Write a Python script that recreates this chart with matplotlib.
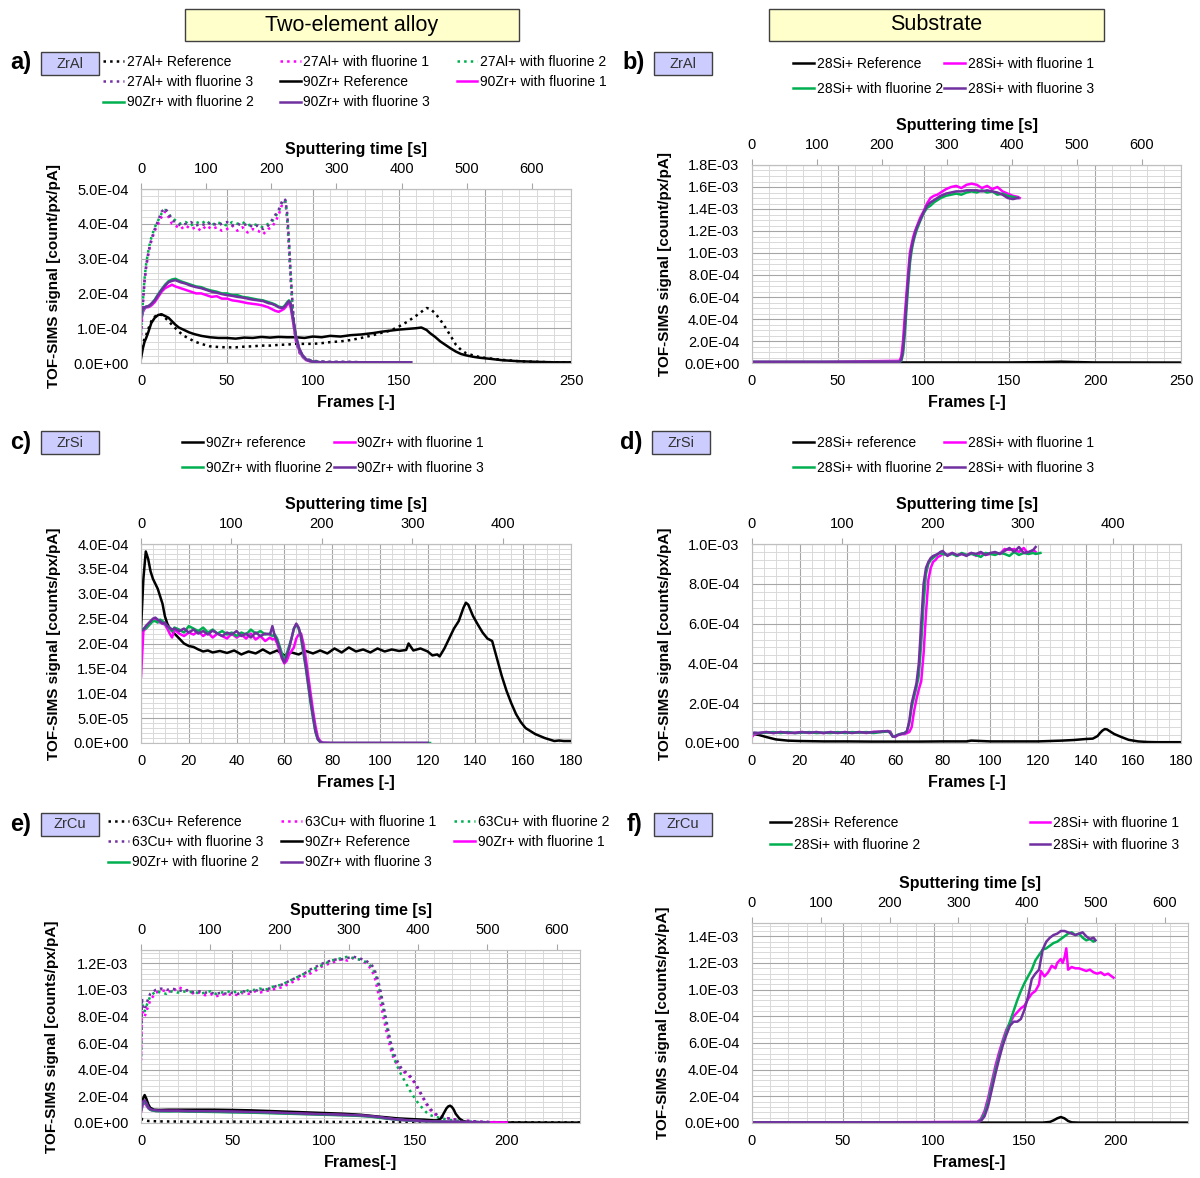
import matplotlib
matplotlib.use('Agg')
import matplotlib.pyplot as plt
from matplotlib.patches import Rectangle
from matplotlib.ticker import MultipleLocator, FuncFormatter

plt.rcParams['font.family'] = ['Liberation Sans Narrow', 'Liberation Sans', 'DejaVu Sans']

# Colores
C_REF = 'black'
C_F1 = '#ff00ff'
C_F2 = '#00b050'
C_F3 = '#7030a0'

# Segundos por frame (eje superior)
SEC_PER_FRAME = 2.64

# ---------------- a) ZrAl, aleación (x1e-4) ----------------
a_frames = [0, 1, 2, 3, 4, 5, 6, 8, 10, 12, 14, 16, 18, 20, 23, 26, 29, 32, 35, 38, 41, 44, 47, 50, 53,
            56, 59, 62, 65, 68, 71, 74, 76, 78, 80, 82, 83, 84, 85, 86, 87, 88, 89, 90, 92, 94, 96, 98,
            100, 105, 110, 120, 130, 140, 150, 157]
a_al_f1 = [0.8, 1.6, 2.3, 2.75, 3.05, 3.3, 3.5, 3.8, 4.0, 4.2, 4.35, 4.2, 4.0, 3.95, 3.85, 3.95, 3.85,
           3.9, 3.8, 3.95, 3.85, 3.9, 3.8, 3.85, 3.95, 3.8, 3.9, 3.75, 3.85, 3.8, 3.7, 3.85, 3.9, 4.05,
           4.25, 4.55, 4.65, 4.6, 4.1, 3.3, 2.4, 1.6, 1.0, 0.65, 0.3, 0.18, 0.12, 0.08, 0.06, 0.04,
           0.03, 0.03, 0.02, 0.02, 0.02, 0.02]
a_al_f2 = [0.9, 1.7, 2.4, 2.85, 3.15, 3.4, 3.6, 3.9, 4.1, 4.3, 4.4, 4.3, 4.15, 4.1, 4.0, 4.05, 3.95,
           4.05, 4.0, 4.1, 3.95, 4.05, 4.0, 3.95, 4.05, 4.0, 4.05, 3.95, 4.0, 3.95, 3.9, 4.0, 4.05, 4.2,
           4.35, 4.6, 4.7, 4.65, 4.2, 3.45, 2.5, 1.7, 1.05, 0.7, 0.32, 0.19, 0.12, 0.08, 0.06, 0.04,
           0.03, 0.03, 0.02, 0.02, 0.02, 0.02]
a_al_f3 = [0.8, 1.7, 2.35, 2.8, 3.1, 3.35, 3.55, 3.85, 4.1, 4.35, 4.45, 4.3, 4.1, 4.05, 3.95, 4.0, 4.05,
           3.95, 4.0, 3.95, 4.05, 3.95, 4.0, 4.05, 3.95, 4.0, 3.95, 4.0, 3.9, 3.95, 3.85, 3.95, 4.1, 4.25,
           4.4, 4.65, 4.72, 4.68, 4.3, 3.55, 2.6, 1.8, 1.1, 0.75, 0.35, 0.2, 0.13, 0.09, 0.06, 0.04,
           0.03, 0.03, 0.02, 0.02, 0.02, 0.02]
a_zr_f1 = [1.2, 1.45, 1.55, 1.6, 1.6, 1.62, 1.65, 1.75, 1.9, 2.05, 2.15, 2.2, 2.25, 2.2, 2.15, 2.1, 2.05,
           2.0, 2.0, 1.95, 1.9, 1.92, 1.85, 1.85, 1.8, 1.78, 1.75, 1.72, 1.7, 1.68, 1.65, 1.6, 1.55, 1.5,
           1.47, 1.52, 1.55, 1.6, 1.68, 1.72, 1.6, 1.3, 1.0, 0.7, 0.35, 0.17, 0.08, 0.05, 0.03, 0.02,
           0.02, 0.02, 0.02, 0.02, 0.02, 0.02]
a_zr_f2 = [1.3, 1.5, 1.58, 1.62, 1.62, 1.65, 1.7, 1.82, 1.98, 2.12, 2.25, 2.35, 2.4, 2.42, 2.35, 2.3,
           2.25, 2.2, 2.18, 2.12, 2.08, 2.05, 2.0, 2.0, 1.95, 1.95, 1.9, 1.88, 1.85, 1.82, 1.8, 1.75, 1.72,
           1.68, 1.62, 1.6, 1.62, 1.68, 1.75, 1.8, 1.72, 1.4, 1.1, 0.78, 0.4, 0.2, 0.1, 0.06, 0.04, 0.02,
           0.02, 0.02, 0.02, 0.02, 0.02, 0.02]
a_zr_f3 = [1.4, 1.55, 1.6, 1.62, 1.63, 1.66, 1.7, 1.8, 1.95, 2.1, 2.22, 2.32, 2.36, 2.38, 2.32, 2.28,
           2.22, 2.18, 2.15, 2.1, 2.05, 2.02, 1.98, 1.95, 1.93, 1.9, 1.88, 1.85, 1.82, 1.8, 1.78, 1.72, 1.7,
           1.66, 1.6, 1.58, 1.6, 1.65, 1.72, 1.78, 1.7, 1.42, 1.12, 0.8, 0.42, 0.22, 0.11, 0.06, 0.04,
           0.02, 0.02, 0.02, 0.02, 0.02, 0.02, 0.02]
a_ref_frames = [0, 1, 2, 3, 4, 6, 8, 10, 12, 14, 16, 18, 20, 22, 25, 28, 31, 35, 40, 45, 50, 55, 60, 65,
                70, 75, 80, 85, 90, 95, 100, 105, 110, 116, 122, 128, 135, 140, 145, 150, 155, 160, 163,
                166, 168, 171, 174, 177, 180, 183, 186, 189, 193, 197, 203, 210, 220, 232, 240, 250]
a_zr_ref = [0.13, 0.4, 0.6, 0.72, 0.85, 1.15, 1.3, 1.38, 1.4, 1.35, 1.3, 1.2, 1.1, 1.02, 0.95, 0.88, 0.83,
            0.78, 0.74, 0.72, 0.72, 0.7, 0.73, 0.72, 0.75, 0.73, 0.75, 0.74, 0.74, 0.72, 0.76, 0.74, 0.78,
            0.76, 0.8, 0.82, 0.86, 0.9, 0.93, 0.96, 0.98, 1.0, 1.02, 0.95, 0.86, 0.75, 0.62, 0.52, 0.42,
            0.33, 0.26, 0.22, 0.18, 0.15, 0.12, 0.08, 0.05, 0.03, 0.02, 0.02]
a_al_ref = [0.25, 0.5, 0.7, 0.8, 0.95, 1.2, 1.33, 1.4, 1.38, 1.3, 1.2, 1.1, 1.0, 0.9, 0.78, 0.7, 0.62,
            0.55, 0.48, 0.46, 0.45, 0.45, 0.47, 0.48, 0.5, 0.5, 0.52, 0.53, 0.55, 0.55, 0.55, 0.57, 0.6,
            0.62, 0.66, 0.72, 0.8, 0.87, 0.93, 1.05, 1.19, 1.36, 1.47, 1.58, 1.56, 1.43, 1.24, 1.02, 0.78,
            0.53, 0.38, 0.28, 0.22, 0.17, 0.13, 0.09, 0.05, 0.03, 0.02, 0.02]

# ---------------- b) ZrAl, sustrato (x1e-3) ----------------
b_frames = [0, 40, 86, 87, 88, 89, 90, 91, 92, 93, 94, 95, 96, 98, 100, 102, 104, 106, 108, 110, 113, 116,
            119, 122, 125, 128, 131, 134, 137, 140, 143, 146, 149, 152, 155]
b_si_f1 = [0.01, 0.01, 0.02, 0.06, 0.2, 0.42, 0.63, 0.82, 1.0, 1.08, 1.15, 1.2, 1.24, 1.32, 1.38, 1.45,
           1.5, 1.52, 1.53, 1.55, 1.58, 1.6, 1.61, 1.59, 1.62, 1.63, 1.62, 1.59, 1.61, 1.58, 1.6, 1.56,
           1.54, 1.52, 1.51]
b_si_f2 = [0.01, 0.01, 0.01, 0.02, 0.08, 0.25, 0.48, 0.7, 0.9, 1.02, 1.1, 1.16, 1.21, 1.29, 1.36, 1.41,
           1.43, 1.46, 1.48, 1.5, 1.52, 1.53, 1.54, 1.53, 1.55, 1.56, 1.55, 1.57, 1.55, 1.56, 1.53, 1.54,
           1.52, 1.51, 1.5]
b_si_f3 = [0.01, 0.01, 0.01, 0.03, 0.12, 0.32, 0.55, 0.76, 0.95, 1.05, 1.12, 1.18, 1.23, 1.3, 1.37, 1.43,
           1.46, 1.48, 1.5, 1.52, 1.54, 1.55, 1.56, 1.56, 1.57, 1.57, 1.57, 1.56, 1.57, 1.56, 1.55, 1.53,
           1.5, 1.49, 1.5]
b_ref_frames = [0, 50, 100, 150, 170, 180, 190, 200, 250]
b_si_ref = [0.004, 0.004, 0.005, 0.005, 0.008, 0.012, 0.008, 0.005, 0.004]

# ---------------- c) ZrSi, aleación (x1e-4) ----------------
c_ref_frames = [0, 1, 2, 3, 4, 5, 6, 7, 8, 9, 10, 11, 12, 13, 14, 16, 18, 20, 22, 24, 26, 28, 30, 33, 36,
                39, 42, 45, 48, 51, 54, 57, 60, 63, 66, 69, 72, 75, 78, 81, 84, 87, 90, 93, 96, 99, 102,
                105, 108, 111, 112, 114, 117, 120, 122, 124, 125, 127, 129, 131, 133, 135, 136, 137, 139,
                141, 143, 145, 147, 149, 151, 153, 155, 157, 159, 161, 163, 165, 167, 169, 171, 173, 175,
                177, 180]
c_zr_ref = [2.28, 3.3, 3.85, 3.7, 3.45, 3.3, 3.2, 3.1, 2.95, 2.8, 2.55, 2.4, 2.3, 2.25, 2.2, 2.1, 2.0,
            1.95, 1.93, 1.88, 1.84, 1.86, 1.82, 1.85, 1.81, 1.86, 1.78, 1.84, 1.8, 1.88, 1.8, 1.86, 1.76,
            1.82, 1.78, 1.85, 1.8, 1.86, 1.8, 1.9, 1.82, 1.92, 1.84, 1.88, 1.82, 1.9, 1.84, 1.88, 1.85,
            1.87, 2.0, 1.86, 1.9, 1.84, 1.76, 1.78, 1.74, 1.9, 2.1, 2.3, 2.45, 2.72, 2.82, 2.78, 2.55, 2.38,
            2.22, 2.1, 2.05, 1.7, 1.35, 1.05, 0.8, 0.58, 0.42, 0.3, 0.24, 0.18, 0.14, 0.1, 0.07, 0.04,
            0.05, 0.04, 0.04]
c_frames = [0, 1, 2, 3, 4, 5, 6, 7, 8, 9, 10, 11, 12, 13, 14, 16, 18, 20, 22, 24, 26, 28, 30, 32, 34, 36,
            38, 40, 42, 44, 46, 48, 50, 52, 54, 55, 56, 57, 58, 59, 60, 61, 62, 63, 64, 65, 66, 67, 68,
            69, 70, 71, 72, 73, 74, 75, 76, 80, 90, 100, 110, 120]
c_zr_f1 = [1.33, 2.25, 2.3, 2.35, 2.42, 2.48, 2.5, 2.45, 2.42, 2.4, 2.38, 2.3, 2.2, 2.12, 2.28, 2.2, 2.15,
           2.22, 2.18, 2.25, 2.15, 2.22, 2.12, 2.2, 2.15, 2.1, 2.2, 2.12, 2.18, 2.1, 2.2, 2.08, 2.15, 2.05,
           2.12, 2.08, 2.1, 2.0, 1.85, 1.7, 1.6, 1.65, 1.78, 1.85, 1.92, 2.1, 2.18, 2.2, 2.0, 1.7, 1.35,
           1.0, 0.65, 0.35, 0.12, 0.04, 0.01, 0.0, 0.0, 0.0, 0.0, 0.0]
c_zr_f2 = [2.25, 2.3, 2.3, 2.35, 2.4, 2.45, 2.45, 2.42, 2.48, 2.45, 2.4, 2.35, 2.3, 2.25, 2.32, 2.28,
           2.22, 2.35, 2.3, 2.25, 2.32, 2.22, 2.28, 2.2, 2.25, 2.18, 2.22, 2.15, 2.22, 2.18, 2.28, 2.2,
           2.25, 2.18, 2.2, 2.15, 2.18, 2.1, 1.95, 1.8, 1.68, 1.8, 1.95, 2.1, 2.3, 2.38, 2.3, 2.1, 1.8,
           1.5, 1.15, 0.8, 0.5, 0.22, 0.07, 0.02, 0.0, 0.0, 0.0, 0.0, 0.0, 0.0]
c_zr_f3 = [2.25, 2.28, 2.35, 2.4, 2.45, 2.5, 2.52, 2.48, 2.45, 2.4, 2.42, 2.35, 2.32, 2.28, 2.3, 2.25,
           2.3, 2.22, 2.28, 2.2, 2.25, 2.18, 2.26, 2.2, 2.15, 2.22, 2.18, 2.25, 2.15, 2.2, 2.12, 2.22,
           2.15, 2.2, 2.18, 2.35, 2.15, 2.05, 1.9, 1.72, 1.62, 1.75, 1.9, 2.1, 2.3, 2.4, 2.32, 2.15, 1.85,
           1.55, 1.2, 0.85, 0.55, 0.25, 0.08, 0.02, 0.0, 0.0, 0.0, 0.0, 0.0, 0.0]

# ---------------- d) ZrSi, sustrato (x1e-4) ----------------
d_frames = [0, 1, 3, 6, 9, 12, 15, 18, 21, 24, 27, 30, 33, 36, 39, 42, 45, 48, 51, 54, 57, 58, 59, 60, 61,
            62, 63, 64, 65, 66, 67, 68, 69, 70, 71, 72, 73, 74, 75, 76, 77, 78, 79, 80, 82, 84, 86, 88,
            90, 92, 94, 96, 98, 100, 102, 104, 106, 108, 110, 112, 114, 116, 118, 119, 121]
d_si_f1 = [0.3, 0.45, 0.5, 0.55, 0.5, 0.55, 0.5, 0.52, 0.55, 0.5, 0.55, 0.5, 0.55, 0.52, 0.55, 0.52, 0.55,
           0.5, 0.56, 0.55, 0.6, 0.58, 0.35, 0.3, 0.38, 0.42, 0.45, 0.45, 0.5, 0.55, 0.8, 1.6, 2.2, 2.7,
           3.1, 4.5, 6.5, 8.2, 8.8, 9.1, 9.2, 9.35, 9.4, 9.5, 9.45, 9.55, 9.4, 9.5, 9.45, 9.55, 9.4, 9.55,
           9.45, 9.5, 9.55, 9.5, 9.75, 9.7, 9.75, 9.6, 9.8, 9.5, 9.7, 9.6]
d_si_f2 = [0.45, 0.5, 0.5, 0.52, 0.55, 0.5, 0.55, 0.5, 0.52, 0.55, 0.5, 0.52, 0.5, 0.55, 0.5, 0.55, 0.52,
           0.55, 0.5, 0.55, 0.58, 0.55, 0.32, 0.35, 0.4, 0.45, 0.48, 0.5, 0.6, 1.0, 1.8, 2.3, 2.8, 3.4,
           5.0, 7.0, 8.5, 9.0, 9.2, 9.3, 9.4, 9.5, 9.55, 9.5, 9.45, 9.5, 9.4, 9.55, 9.45, 9.5, 9.45, 9.35,
           9.55, 9.5, 9.45, 9.55, 9.5, 9.4, 9.6, 9.45, 9.55, 9.5, 9.55, 9.5, 9.55]
d_si_f3 = [0.5, 0.52, 0.5, 0.55, 0.5, 0.55, 0.52, 0.5, 0.55, 0.52, 0.55, 0.5, 0.55, 0.5, 0.55, 0.5, 0.55,
           0.52, 0.55, 0.58, 0.6, 0.5, 0.33, 0.32, 0.4, 0.43, 0.47, 0.5, 0.58, 1.1, 2.0, 2.5, 3.0, 4.0,
           6.0, 8.0, 8.8, 9.1, 9.3, 9.4, 9.45, 9.5, 9.6, 9.65, 9.4, 9.55, 9.45, 9.5, 9.4, 9.55, 9.5, 9.6,
           9.45, 9.55, 9.6, 9.5, 9.65, 9.8, 9.6, 9.85, 9.55, 9.6, 9.7, 9.85]
d_ref_frames = [0, 3, 6, 10, 15, 20, 30, 40, 50, 60, 70, 80, 90, 92, 100, 110, 120, 125, 130, 135, 140,
                143, 145, 146, 147, 148, 149, 150, 152, 155, 158, 162, 166, 170, 180]
d_si_ref = [0.47, 0.4, 0.3, 0.18, 0.12, 0.1, 0.08, 0.08, 0.07, 0.07, 0.07, 0.08, 0.08, 0.12, 0.08, 0.08,
            0.08, 0.1, 0.12, 0.15, 0.2, 0.22, 0.35, 0.5, 0.62, 0.7, 0.68, 0.6, 0.45, 0.3, 0.16, 0.08, 0.05,
            0.04, 0.04]

# ---------------- e) ZrCu, aleación (x1e-3) ----------------
e_cu_frames = [0, 0.5, 1, 2, 3, 5, 8, 11, 14, 17, 20, 23, 26, 29, 32, 35, 38, 41, 44, 47, 50, 53, 56, 59,
               62, 65, 68, 71, 74, 77, 80, 83, 86, 89, 92, 95, 98, 101, 104, 107, 110, 113, 116, 119, 121,
               123, 125, 126, 127, 128, 129, 130, 131, 132, 133, 134, 135, 136, 137, 138, 140, 142, 144,
               146, 148, 150, 152, 154, 156, 158, 160, 163, 166, 170, 175, 180, 185, 190, 195, 200]
e_cu_f1 = [0.47, 0.88, 0.82, 0.8, 0.84, 0.92, 0.98, 0.99, 1.0, 0.98, 1.02, 1.01, 0.99, 0.97, 0.98, 0.96,
           0.97, 0.95, 0.97, 0.96, 0.97, 0.96, 0.98, 0.97, 0.99, 0.98, 0.99, 1.0, 1.01, 1.02, 1.04, 1.06,
           1.08, 1.1, 1.12, 1.14, 1.17, 1.19, 1.2, 1.22, 1.23, 1.22, 1.24, 1.23, 1.22, 1.2, 1.17, 1.15,
           1.12, 1.08, 1.02, 0.96, 0.9, 0.83, 0.76, 0.7, 0.64, 0.58, 0.53, 0.49, 0.44, 0.4, 0.38, 0.36,
           0.33, 0.29, 0.24, 0.19, 0.14, 0.1, 0.07, 0.05, 0.04, 0.03, 0.02, 0.015, 0.01, 0.008, 0.006,
           0.005]
e_cu_f2 = [0.5, 0.92, 0.86, 0.84, 0.88, 0.95, 0.99, 0.98, 0.97, 0.99, 0.98, 0.99, 0.98, 0.99, 0.97, 0.98,
           0.99, 0.97, 0.98, 0.99, 0.98, 0.99, 0.98, 1.0, 1.0, 1.01, 1.0, 1.02, 1.03, 1.04, 1.06, 1.08, 1.1,
           1.12, 1.14, 1.16, 1.18, 1.2, 1.22, 1.23, 1.24, 1.25, 1.24, 1.23, 1.22, 1.21, 1.19, 1.17, 1.15,
           1.12, 1.08, 1.02, 0.96, 0.89, 0.82, 0.75, 0.68, 0.62, 0.56, 0.5, 0.43, 0.37, 0.32, 0.27, 0.22,
           0.18, 0.14, 0.11, 0.08, 0.06, 0.05, 0.04, 0.03, 0.02, 0.015, 0.01, 0.008, 0.006]
e_cu_f3 = [0.5, 0.94, 0.87, 0.85, 0.9, 0.97, 1.0, 1.01, 1.0, 1.01, 1.0, 0.99, 1.0, 0.98, 0.99, 0.98, 0.98,
           0.97, 0.98, 0.97, 0.98, 0.97, 0.99, 0.98, 1.0, 0.99, 1.01, 1.01, 1.03, 1.04, 1.06, 1.08, 1.1,
           1.12, 1.15, 1.17, 1.19, 1.21, 1.22, 1.23, 1.23, 1.24, 1.25, 1.24, 1.23, 1.22, 1.2, 1.19, 1.17,
           1.14, 1.1, 1.05, 0.99, 0.92, 0.85, 0.78, 0.71, 0.64, 0.58, 0.53, 0.47, 0.42, 0.39, 0.37, 0.34,
           0.3, 0.25, 0.2, 0.15, 0.11, 0.08, 0.05, 0.04, 0.03, 0.02, 0.015, 0.01, 0.008]
e_curef_frames = [0, 1, 2, 4, 10, 30, 60, 100, 150, 200, 240]
e_cu_ref = [0.035, 0.025, 0.02, 0.015, 0.012, 0.01, 0.01, 0.008, 0.006, 0.005, 0.004]
e_zr_frames = [0, 1, 2, 3, 4, 5, 6, 8, 10, 15, 20, 25, 30, 40, 50, 60, 70, 80, 90, 100, 110, 115, 120,
               125, 130, 135, 140, 145, 150, 155, 160, 165, 170, 175, 180, 190, 200]
e_zr_f1 = [0.08, 0.14, 0.15, 0.13, 0.11, 0.1, 0.095, 0.09, 0.09, 0.09, 0.09, 0.088, 0.087, 0.085, 0.083,
           0.08, 0.077, 0.072, 0.068, 0.064, 0.06, 0.058, 0.055, 0.05, 0.042, 0.033, 0.025, 0.02, 0.016,
           0.013, 0.011, 0.01, 0.008, 0.007, 0.006, 0.005, 0.004]
e_zr_f2 = [0.09, 0.15, 0.16, 0.14, 0.115, 0.1, 0.095, 0.09, 0.088, 0.087, 0.088, 0.086, 0.085, 0.083, 0.08,
           0.078, 0.074, 0.07, 0.066, 0.062, 0.058, 0.056, 0.053, 0.048, 0.04, 0.032, 0.025, 0.02, 0.016,
           0.013, 0.011, 0.01, 0.008, 0.007, 0.006, 0.005]
e_zr_f3 = [0.1, 0.16, 0.17, 0.15, 0.12, 0.105, 0.1, 0.095, 0.093, 0.092, 0.092, 0.09, 0.089, 0.088, 0.086,
           0.083, 0.08, 0.075, 0.07, 0.066, 0.062, 0.06, 0.057, 0.052, 0.045, 0.035, 0.027, 0.022, 0.018,
           0.015, 0.012, 0.01, 0.009, 0.008, 0.007, 0.005]
e_zrref_frames = [0, 1, 2, 3, 4, 5, 7, 10, 15, 20, 30, 40, 50, 60, 70, 80, 90, 100, 110, 120, 130, 140,
                  150, 155, 160, 162, 164, 165, 166, 167, 168, 169, 170, 171, 172, 174, 176, 178, 180, 190,
                  200, 220, 240]
e_zr_ref = [0.1, 0.18, 0.21, 0.18, 0.14, 0.115, 0.1, 0.098, 0.1, 0.1, 0.1, 0.1, 0.098, 0.095, 0.09, 0.085,
            0.08, 0.075, 0.07, 0.062, 0.048, 0.035, 0.028, 0.025, 0.02, 0.02, 0.035, 0.06, 0.085, 0.11,
            0.125, 0.13, 0.12, 0.1, 0.07, 0.035, 0.015, 0.008, 0.005, 0.004, 0.004, 0.003, 0.003]

# ---------------- f) ZrCu, sustrato (x1e-3) ----------------
f_frames = [0, 60, 124, 126, 128, 130, 132, 134, 136, 138, 140, 142, 144, 146, 148, 150, 152, 154, 156,
            158, 160, 162, 164, 166, 168, 170, 172, 174, 176, 178, 180, 182, 184, 186, 188, 189]
f_si_f2 = [0.005, 0.005, 0.006, 0.02, 0.07, 0.16, 0.28, 0.4, 0.5, 0.6, 0.68, 0.76, 0.84, 0.92, 0.99, 1.05,
           1.1, 1.15, 1.22, 1.26, 1.3, 1.31, 1.33, 1.35, 1.36, 1.38, 1.4, 1.42, 1.43, 1.41, 1.42, 1.39,
           1.37, 1.38, 1.36, 1.37]
f_si_f3 = [0.005, 0.005, 0.006, 0.015, 0.05, 0.13, 0.25, 0.37, 0.48, 0.58, 0.66, 0.73, 0.76, 0.76, 0.78,
           0.85, 0.95, 1.08, 1.12, 1.15, 1.3, 1.36, 1.39, 1.41, 1.42, 1.44, 1.44, 1.43, 1.42, 1.41, 1.42,
           1.43, 1.4, 1.38, 1.39, 1.37]
f_f1_frames = [0, 60, 124, 126, 128, 130, 132, 134, 136, 138, 140, 142, 144, 146, 148, 150, 152, 154, 156,
               158, 159, 160, 161, 163, 165, 167, 168, 170, 171, 172, 173, 174, 176, 178, 180, 182, 184,
               186, 188, 190, 192, 194, 196, 198, 199]
f_si_f1 = [0.005, 0.005, 0.008, 0.03, 0.09, 0.19, 0.31, 0.43, 0.53, 0.62, 0.7, 0.75, 0.8, 0.83, 0.86,
           0.88, 0.93, 0.97, 0.99, 1.04, 1.14, 1.12, 1.1, 1.13, 1.18, 1.16, 1.2, 1.23, 1.2, 1.24, 1.31,
           1.15, 1.17, 1.16, 1.16, 1.15, 1.14, 1.15, 1.13, 1.12, 1.13, 1.11, 1.12, 1.1, 1.09]
f_ref_frames = [0, 100, 160, 164, 166, 168, 170, 172, 174, 176, 180, 240]
f_si_ref = [0.003, 0.003, 0.003, 0.008, 0.02, 0.035, 0.045, 0.035, 0.015, 0.005, 0.003, 0.003]

FIG_W, FIG_H = 1200, 1178
fig = plt.figure(figsize=(FIG_W / 100, FIG_H / 100), dpi=100)


def fx(px):
    return px / FIG_W


def fy(py):
    return 1 - py / FIG_H


def make_axes(left, right, top, bottom, xmax, xmajor, xminor, ymax, ymajor, yminor, ylabel, xlabel):
    ax = fig.add_axes([fx(left), fy(bottom), fx(right - left), (bottom - top) / FIG_H])
    ax.set_xlim(0, xmax)
    ax.set_ylim(0, ymax)
    ax.xaxis.set_major_locator(MultipleLocator(xmajor))
    ax.xaxis.set_minor_locator(MultipleLocator(xminor))
    ax.yaxis.set_major_locator(MultipleLocator(ymajor))
    ax.yaxis.set_minor_locator(MultipleLocator(yminor))
    ax.yaxis.set_major_formatter(FuncFormatter(lambda v, p: f'{v:.1E}'))
    ax.grid(which='major', color='#a6a6a6', lw=0.8)
    ax.grid(which='minor', color='#d9d9d9', lw=0.7)
    ax.set_axisbelow(True)
    ax.tick_params(which='both', length=0, labelsize=10.5)
    ax.tick_params(axis='x', pad=8)
    ax.tick_params(axis='y', pad=9)
    for s in ax.spines.values():
        s.set_color('#bfbfbf')
    ax.set_xlabel(xlabel, fontsize=11.5, fontweight='bold', labelpad=5)
    ax.set_ylabel(ylabel, fontsize=11, fontweight='bold')
    ax.yaxis.set_label_coords(-0.187, 0.5)
    sec = ax.secondary_xaxis('top', functions=(lambda f: f * SEC_PER_FRAME, lambda s: s / SEC_PER_FRAME))
    sec.set_xticks([t for t in range(0, 1000, 100) if t <= xmax * SEC_PER_FRAME])
    sec.tick_params(length=4, color='#a6a6a6', labelsize=10.5, pad=5)
    sec.spines['top'].set_color('#bfbfbf')
    sec.set_xlabel('Sputtering time [s]', fontsize=11.5, fontweight='bold', labelpad=6)
    return ax


def panel_tag(letter, lx, box_x, top, name):
    fig.text(fx(lx), fy(top + 11), letter, fontsize=17, fontweight='bold', va='center', ha='left')
    fig.patches.append(Rectangle((fx(box_x), fy(top + 23)), 58 / FIG_W, 23 / FIG_H,
                                 transform=fig.transFigure, fc='#ccccff', ec='#404040', lw=1))
    fig.text(fx(box_x + 29), fy(top + 11.5), name, fontsize=10.5, ha='center', va='center', color='#333333')


def header(x0, x1, text):
    fig.patches.append(Rectangle((fx(x0), fy(41)), (x1 - x0) / FIG_W, 32 / FIG_H,
                                 transform=fig.transFigure, fc='#ffffcc', ec='#404040', lw=1))
    fig.text(fx((x0 + x1) / 2), fy(25), text, fontsize=15.5, ha='center', va='center')


def legend(ax, handles, x, y, ncol, colsp, labsp):
    ax.legend(handles=handles, loc='upper left', bbox_to_anchor=(fx(x), fy(y)),
              bbox_transform=fig.transFigure, ncol=ncol, frameon=False, fontsize=10,
              handlelength=1.5, handletextpad=0.2, columnspacing=colsp, labelspacing=labsp,
              borderpad=0, borderaxespad=0)


LW = 1.8
sc4 = 1e-4
sc3 = 1e-3

# a)
ax = make_axes(141, 571, 189, 363, 250, 50, 10, 5e-4, 1e-4, 2e-5,
               'TOF-SIMS signal [count/px/pA]', 'Frames [-]')
l1, = ax.plot(a_ref_frames, [v * sc4 for v in a_al_ref], ':', color=C_REF, lw=LW, label='27Al+ Reference')
l2, = ax.plot(a_frames, [v * sc4 for v in a_al_f1], ':', color=C_F1, lw=LW, label='27Al+ with fluorine 1')
l3, = ax.plot(a_frames, [v * sc4 for v in a_al_f2], ':', color=C_F2, lw=LW, label='27Al+ with fluorine 2')
l4, = ax.plot(a_frames, [v * sc4 for v in a_al_f3], ':', color=C_F3, lw=LW, label='27Al+ with fluorine 3')
l5, = ax.plot(a_ref_frames, [v * sc4 for v in a_zr_ref], '-', color=C_REF, lw=LW, label='90Zr+ Reference')
l6, = ax.plot(a_frames, [v * sc4 for v in a_zr_f1], '-', color=C_F1, lw=LW, label='90Zr+ with fluorine 1')
l7, = ax.plot(a_frames, [v * sc4 for v in a_zr_f2], '-', color=C_F2, lw=LW, label='90Zr+ with fluorine 2')
l8, = ax.plot(a_frames, [v * sc4 for v in a_zr_f3], '-', color=C_F3, lw=LW, label='90Zr+ with fluorine 3')
legend(ax, [l1, l4, l7, l2, l5, l8, l3, l6], 103, 55, 3, 1.9, 0.45)
panel_tag('a)', 10, 41, 52, 'ZrAl')

# b)
ax = make_axes(752, 1181, 165, 363, 250, 50, 10, 1.8e-3, 2e-4, 5e-5,
               'TOF-SIMS signal [count/px/pA]', 'Frames [-]')
l1, = ax.plot(b_ref_frames, [v * sc3 for v in b_si_ref], color=C_REF, lw=LW, label='28Si+ Reference')
l2, = ax.plot(b_frames + [156], [v * sc3 for v in b_si_f1 + [1.5]], color=C_F1, lw=LW, label='28Si+ with fluorine 1')
l3, = ax.plot(b_frames, [v * sc3 for v in b_si_f2], color=C_F2, lw=LW, label='28Si+ with fluorine 2')
l4, = ax.plot(b_frames, [v * sc3 for v in b_si_f3], color=C_F3, lw=LW, label='28Si+ with fluorine 3')
legend(ax, [l1, l3, l2, l4], 793, 57, 2, 0.1, 0.8)
panel_tag('b)', 622, 654, 52, 'ZrAl')

# c)
ax = make_axes(141, 571, 544, 743, 180, 20, 5, 4e-4, 5e-5, 1e-5,
               'TOF-SIMS signal [counts/px/pA]', 'Frames [-]')
l1, = ax.plot(c_ref_frames, [v * sc4 for v in c_zr_ref], color=C_REF, lw=LW, label='90Zr+ reference')
l2, = ax.plot(c_frames, [v * sc4 for v in c_zr_f1], color=C_F1, lw=LW, label='90Zr+ with fluorine 1')
l3, = ax.plot(c_frames + [121], [v * sc4 for v in c_zr_f2 + [0.0]], color=C_F2, lw=LW, label='90Zr+ with fluorine 2')
l4, = ax.plot(c_frames, [v * sc4 for v in c_zr_f3], color=C_F3, lw=LW, label='90Zr+ with fluorine 3')
legend(ax, [l1, l3, l2, l4], 182, 436, 2, 0.1, 0.8)
panel_tag('c)', 10, 41, 431, 'ZrSi')

# d)
ax = make_axes(752, 1181, 544, 743, 180, 20, 5, 1e-3, 2e-4, 4e-5,
               'TOF-SIMS signal [counts/px/pA]', 'Frames [-]')
l1, = ax.plot(d_ref_frames, [v * sc4 for v in d_si_ref], color=C_REF, lw=LW, label='28Si+ reference')
l2, = ax.plot(d_frames[:-1], [v * sc4 for v in d_si_f1], color=C_F1, lw=LW, label='28Si+ with fluorine 1')
l3, = ax.plot(d_frames, [v * sc4 for v in d_si_f2], color=C_F2, lw=LW, label='28Si+ with fluorine 2')
l4, = ax.plot(d_frames[:-1], [v * sc4 for v in d_si_f3], color=C_F3, lw=LW, label='28Si+ with fluorine 3')
legend(ax, [l1, l3, l2, l4], 793, 436, 2, 0.1, 0.8)
panel_tag('d)', 620, 652, 431, 'ZrSi')

# e)
ax = make_axes(141, 580, 950, 1123, 240, 50, 10, 1.3e-3, 2e-4, 4e-5,
               'TOF-SIMS signal [counts/px/pA]', 'Frames[-]')
l1, = ax.plot(e_curef_frames, [v * sc3 for v in e_cu_ref], ':', color=C_REF, lw=LW, label='63Cu+ Reference')
l2, = ax.plot(e_cu_frames, [v * sc3 for v in e_cu_f1], ':', color=C_F1, lw=LW, label='63Cu+ with fluorine 1')
l3, = ax.plot(e_cu_frames[:-2], [v * sc3 for v in e_cu_f2], ':', color=C_F2, lw=LW, label='63Cu+ with fluorine 2')
l4, = ax.plot(e_cu_frames[:-2], [v * sc3 for v in e_cu_f3], ':', color=C_F3, lw=LW, label='63Cu+ with fluorine 3')
l5, = ax.plot(e_zrref_frames, [v * sc3 for v in e_zr_ref], '-', color=C_REF, lw=LW, label='90Zr+ Reference')
l6, = ax.plot(e_zr_frames, [v * sc3 for v in e_zr_f1], '-', color=C_F1, lw=LW, label='90Zr+ with fluorine 1')
l7, = ax.plot(e_zr_frames[:-1], [v * sc3 for v in e_zr_f2], '-', color=C_F2, lw=LW, label='90Zr+ with fluorine 2')
l8, = ax.plot(e_zr_frames[:-1], [v * sc3 for v in e_zr_f3], '-', color=C_F3, lw=LW, label='90Zr+ with fluorine 3')
legend(ax, [l1, l4, l7, l2, l5, l8, l3, l6], 108, 815, 3, 1.3, 0.45)
panel_tag('e)', 10, 41, 813, 'ZrCu')

# f)
ax = make_axes(752, 1188, 923, 1123, 240, 50, 10, 1.5e-3, 2e-4, 4e-5,
               'TOF-SIMS signal [counts/px/pA]', 'Frames[-]')
l1, = ax.plot(f_ref_frames, [v * sc3 for v in f_si_ref], color=C_REF, lw=LW, label='28Si+ Reference')
l2, = ax.plot(f_f1_frames, [v * sc3 for v in f_si_f1], color=C_F1, lw=LW, label='28Si+ with fluorine 1')
l3, = ax.plot(f_frames, [v * sc3 for v in f_si_f2], color=C_F2, lw=LW, label='28Si+ with fluorine 2')
l4, = ax.plot(f_frames, [v * sc3 for v in f_si_f3], color=C_F3, lw=LW, label='28Si+ with fluorine 3')
legend(ax, [l1, l3, l2, l4], 770, 816, 2, 7.9, 0.6)
panel_tag('f)', 627, 654, 813, 'ZrCu')

header(185, 519, 'Two-element alloy')
header(769, 1104, 'Substrate')

fig.savefig('out.png', dpi=100)
